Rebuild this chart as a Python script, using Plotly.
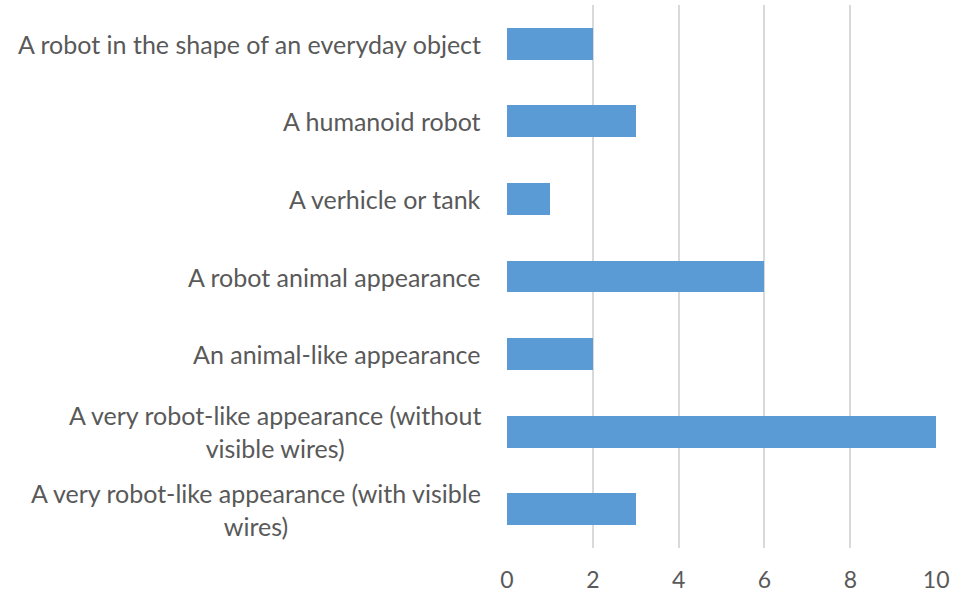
import plotly.graph_objects as go

categories = [
    "A robot in the shape of an everyday object",
    "A humanoid robot",
    "A verhicle or tank",
    "A robot animal appearance",
    "An animal-like appearance",
    "A very robot-like appearance (without<br>visible wires)",
    "A very robot-like appearance (with visible<br>wires)",
]
counts = [2, 3, 1, 6, 2, 10, 3]
x_ticks = [0, 2, 4, 6, 8, 10]

BAR_COLOR = "#5b9bd5"
TEXT_COLOR = "#595959"
GRID_COLOR = "#d9d9d9"
FONT = "Lato, 'Open Sans', sans-serif"

fig = go.Figure(
    go.Bar(
        y=categories,
        x=counts,
        orientation="h",
        marker=dict(color=BAR_COLOR, line=dict(width=0)),
        width=0.41,
    )
)

# category labels, centred per line like the source spreadsheet chart
for cat in categories:
    fig.add_annotation(
        x=0, xref="paper", y=cat, yref="y",
        text=cat, showarrow=False,
        xanchor="right", yanchor="middle", align="center",
        xshift=-24,
        font=dict(family=FONT, size=25, color=TEXT_COLOR),
    )

fig.update_layout(
    width=955, height=595,
    margin=dict(l=507, r=18, t=5, b=47),
    paper_bgcolor="white", plot_bgcolor="white",
    showlegend=False,
    font=dict(family=FONT, size=23, color=TEXT_COLOR),
    bargap=0,
)
fig.update_xaxes(
    range=[0, 10.02],
    tickvals=x_ticks,
    showgrid=True, gridcolor=GRID_COLOR, gridwidth=2,
    zeroline=False, showline=False,
    ticks="", ticklabelstandoff=16,
    automargin=False,
    tickfont=dict(family=FONT, size=23, color=TEXT_COLOR),
)
fig.update_yaxes(
    categoryorder="array", categoryarray=categories[::-1],
    showticklabels=False, showgrid=False, zeroline=False, showline=False,
    automargin=False,
)

fig.write_html("out.html")
